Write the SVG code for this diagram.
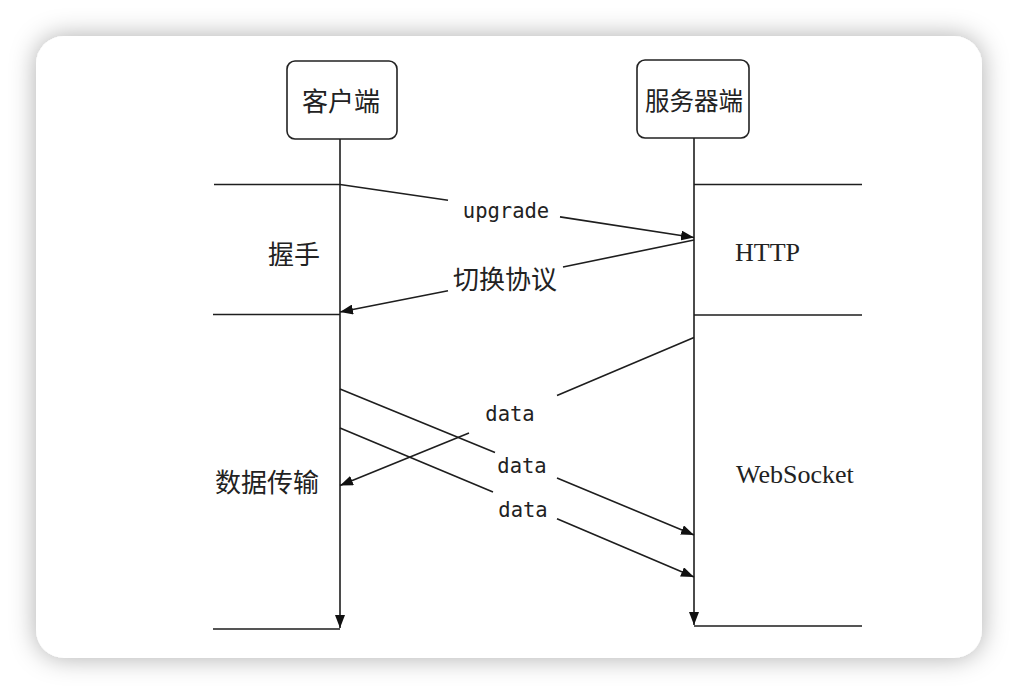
<svg xmlns="http://www.w3.org/2000/svg" width="1018" height="694" viewBox="0 0 1018 694">
<style>
.ln{stroke:#1e1e1e;stroke-width:1.6;fill:none}
.box{fill:#fff;stroke:#222;stroke-width:1.6}
.cjk{font-family:"Noto Sans CJK SC","Noto Sans",sans-serif;font-size:26px;fill:#222;text-anchor:middle}
.mono{font-family:"DejaVu Sans Mono","Liberation Mono",monospace;font-size:20.5px;fill:#222;text-anchor:middle}
.serif{font-family:"Liberation Serif","Times New Roman",serif;font-size:26px;fill:#222}
</style>
<defs>
<filter id="sh" x="-10%" y="-10%" width="120%" height="120%">
<feDropShadow dx="0" dy="0" stdDeviation="13" flood-color="#000" flood-opacity="0.32"/>
</filter>
<marker id="ah" markerUnits="userSpaceOnUse" markerWidth="14" markerHeight="10" refX="13" refY="5" orient="auto">
<path d="M0,0 L13,5 L0,10 Z" fill="#111"/>
</marker>
</defs>
<rect width="1018" height="694" fill="#fff"/>
<rect x="36" y="36" width="946" height="622" rx="28" fill="#fff" filter="url(#sh)"/>

<g id="phase-lines">
<path class="ln" d="M214,184.5 H340 M213,314.5 H340 M213,629 H340"/>
<path class="ln" d="M694,184.5 H862 M694,315 H862 M694,626 H862"/>
</g>

<g id="client">
<rect class="box" x="287" y="61" width="110" height="78" rx="8"/>
<text class="cjk" x="341" y="111">客户端</text>
</g>
<g id="server">
<rect class="box" x="637" y="60" width="112" height="78" rx="8"/>
<text class="cjk" x="694" y="110" style="font-size:24.5px">服务器端</text>
</g>

<g id="lifelines">
<path class="ln" d="M340,139 V628" marker-end="url(#ah)"/>
<path class="ln" d="M694,138 V625" marker-end="url(#ah)"/>
</g>

<g id="connectors">
<path class="ln" d="M340,184.5 L448,200.3 M560,216.9 L694,237.5" marker-end="url(#ah)"/>
<path class="ln" d="M694,240 L563,267 M448,290.7 L340,312" marker-end="url(#ah)"/>
<path class="ln" d="M694,337.5 L557,395.6 M469,432.9 L340,485.5" marker-end="url(#ah)"/>
<path class="ln" d="M340,389 L495,452.6 M557,478 L694,535" marker-end="url(#ah)"/>
<path class="ln" d="M340,428 L493,492 M557,518.7 L694,577" marker-end="url(#ah)"/>
</g>

<g id="labels">
<text class="mono" x="506" y="218">upgrade</text>
<text class="cjk" x="505" y="289">切换协议</text>
<text class="mono" x="510" y="421">data</text>
<text class="mono" x="522" y="473">data</text>
<text class="mono" x="523" y="517">data</text>
<text class="cjk" x="294" y="264">握手</text>
<text class="cjk" x="267" y="492">数据传输</text>
<text class="serif" x="735" y="261">HTTP</text>
<text class="serif" x="736" y="483">WebSocket</text>
</g>
</svg>
